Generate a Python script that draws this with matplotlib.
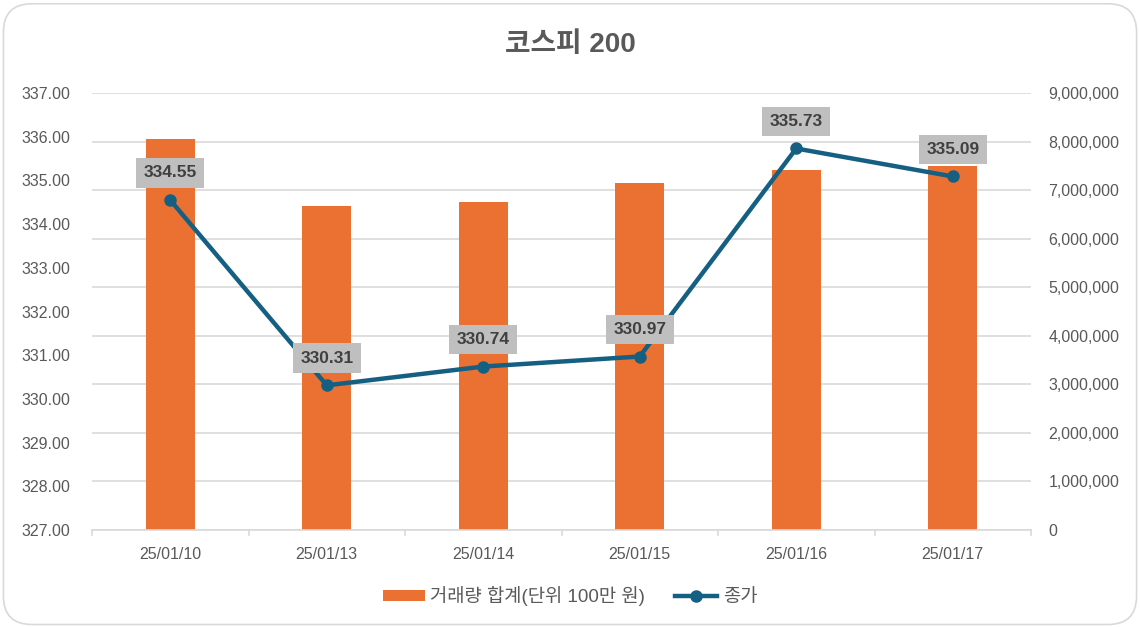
import matplotlib.pyplot as plt
from matplotlib.patches import FancyBboxPatch, Patch
from matplotlib.lines import Line2D
from matplotlib.ticker import FuncFormatter

plt.rcParams['font.family'] = ['Liberation Sans', 'Noto Sans CJK KR']

dates = ['25/01/10', '25/01/13', '25/01/14', '25/01/15', '25/01/16', '25/01/17']
volume = [8050000, 6670000, 6750000, 7150000, 7410000, 7500000]
close = [334.55, 330.31, 330.74, 330.97, 335.73, 335.09]

fig = plt.figure(figsize=(11.4, 6.27), dpi=100)
# rounded outer border
border = FancyBboxPatch((0.003, 0.004), 0.994, 0.99, boxstyle="round,pad=0,rounding_size=0.025",
                        transform=fig.transFigure, facecolor='none', edgecolor='#D9D9D9',
                        linewidth=1.2, mutation_aspect=11.4 / 6.27, zorder=-1)
fig.patches.append(border)

ax = fig.add_axes([92 / 1140, 1 - 530 / 627, (1031 - 92) / 1140, (530 - 93) / 627])
ax2 = ax.twinx()
ax.set_zorder(ax2.get_zorder() + 1)
ax.patch.set_visible(False)

x = list(range(len(dates)))
ax2.bar(x, volume, width=0.31, color='#EA7132', zorder=2)
ax2.set_ylim(0, 9000000)
ax2.set_yticks(range(0, 9000001, 1000000))
ax2.yaxis.set_major_formatter(FuncFormatter(lambda v, p: f'{int(v):,}'))

ax.plot(x, close, color='#156082', linewidth=3.2, marker='o', markersize=8, zorder=3)
ax.set_ylim(327, 337)
ax.set_yticks([327 + i for i in range(11)])
ax.yaxis.set_major_formatter(FuncFormatter(lambda v, p: f'{v:.2f}'))
ax.set_xlim(-0.5, len(dates) - 0.5)
ax.set_xticks(x)
ax.set_xticklabels(dates)

for xi, v in zip(x, close):
    ax.annotate(f'{v:.2f}', (xi, v), xytext=(0, 19.5), textcoords='offset points',
                ha='center', va='center', fontsize=12.5, fontweight='bold', color='#404040',
                bbox=dict(boxstyle='square,pad=0.42', facecolor='#BFBFBF', edgecolor='none'),
                zorder=5)

# grid on the secondary axis (aligned with both)
ax2.yaxis.grid(True, color='#D9D9D9', linewidth=1.2, zorder=0)
ax2.set_axisbelow(True)

for a in (ax, ax2):
    for s in a.spines.values():
        s.set_visible(False)
    a.tick_params(axis='y', length=0, labelsize=11.5, labelcolor='#595959')
ax.spines['bottom'].set_visible(True)
ax.spines['bottom'].set_color('#D9D9D9')
ax.spines['bottom'].set_linewidth(1.2)
ax.tick_params(axis='y', pad=15.5)
ax2.tick_params(axis='y', pad=12.5)
ax.tick_params(axis='x', length=0, labelsize=11.5, labelcolor='#595959', pad=12)
# category separator ticks below axis
for b in range(len(dates) + 1):
    ax.plot([b - 0.5, b - 0.5], [0, -0.012], transform=ax.get_xaxis_transform(),
            color='#D9D9D9', linewidth=1.2, clip_on=False)

fig.text(0.5, 1 - 45 / 627, '코스피 200', ha='center', va='center', fontsize=20,
         fontweight='bold', color='#595959')

handles = [Patch(facecolor='#EA7132', label='거래량 합계(단위 100만 원)'),
           Line2D([0], [0], color='#156082', linewidth=3.2, marker='o', markersize=8, label='종가')]
fig.legend(handles=handles, loc='center', bbox_to_anchor=(0.5, 1 - 596 / 627), ncol=2,
           frameon=False, fontsize=13.5, labelcolor='#595959', handlelength=2.25,
           handleheight=0.5, columnspacing=1.6, handletextpad=0.3)

fig.savefig('out.png', dpi=100)
